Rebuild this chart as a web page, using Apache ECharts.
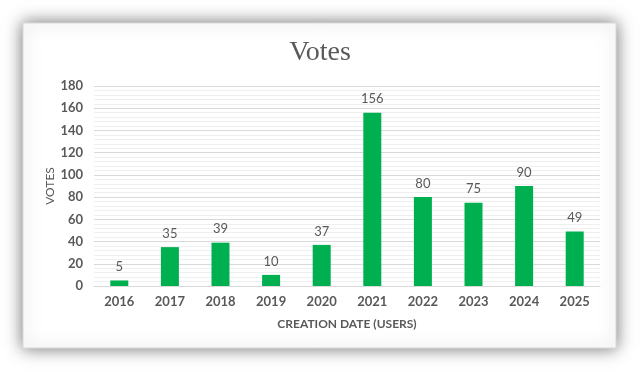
<!DOCTYPE html>
<html><head><meta charset="utf-8">
<script src="https://cdn.jsdelivr.net/npm/echarts@6/dist/echarts.min.js"></script>
<style>html,body{margin:0;padding:0;background:#fff}#c{width:640px;height:372px}</style>
</head><body><div id="c"></div>
<script>
const categories = ['2016','2017','2018','2019','2020','2021','2022','2023','2024','2025'];
const votes = [5, 35, 39, 10, 37, 156, 80, 75, 90, 49];
const yTicks = {min: 0, max: 180, interval: 20};

const chart = echarts.init(document.getElementById('c'), null, {renderer: 'canvas'});
const txt = '#595959';
const font = 'Lato, "Open Sans", sans-serif';
chart.setOption({
  animation: false,
  backgroundColor: '#ffffff',
  graphic: [{
    type: 'rect', z: -10, silent: true,
    shape: {x: 23, y: 23, width: 593, height: 325},
    style: {fill: '#ffffff', stroke: '#d9d9d9', lineWidth: 1,
            shadowBlur: 16, shadowColor: 'rgba(0,0,0,0.55)', shadowOffsetX: 0, shadowOffsetY: 0}
  }],
  title: {
    text: 'Votes', left: 'center', top: 34,
    textStyle: {fontFamily: '"Liberation Serif", serif', fontSize: 28, fontWeight: 'normal', color: txt}
  },
  grid: {left: 94, right: 40, top: 86, bottom: 86},
  xAxis: {
    type: 'category', data: categories,
    name: 'CREATION DATE (USERS)', nameLocation: 'middle', nameGap: 32,
    nameTextStyle: {fontFamily: font, fontSize: 12, fontWeight: 'bold', color: txt},
    axisLine: {show: true, lineStyle: {color: '#d9d9d9'}},
    axisTick: {show: false},
    axisLabel: {fontFamily: font, fontSize: 13, fontWeight: 'bold', color: txt, margin: 9}
  },
  yAxis: {
    type: 'value', min: yTicks.min, max: yTicks.max, interval: yTicks.interval,
    name: 'VOTES', nameLocation: 'middle', nameGap: 38, nameMoveOverlap: false,
    nameTextStyle: {fontFamily: font, fontSize: 12, color: txt},
    axisLine: {show: false}, axisTick: {show: false},
    axisLabel: {fontFamily: font, fontSize: 13, fontWeight: 'bold', color: txt, margin: 11},
    splitLine: {lineStyle: {color: '#d9d9d9', width: 1}},
    minorTick: {show: false, splitNumber: 5},
    minorSplitLine: {show: true, lineStyle: {color: '#efefef', width: 1}}
  },
  series: [{
    type: 'bar', data: votes, barWidth: 18,
    itemStyle: {color: '#00b050'},
    label: {show: true, position: 'top', distance: 7, fontFamily: font, fontSize: 13, color: txt}
  }]
});
</script></body></html>
